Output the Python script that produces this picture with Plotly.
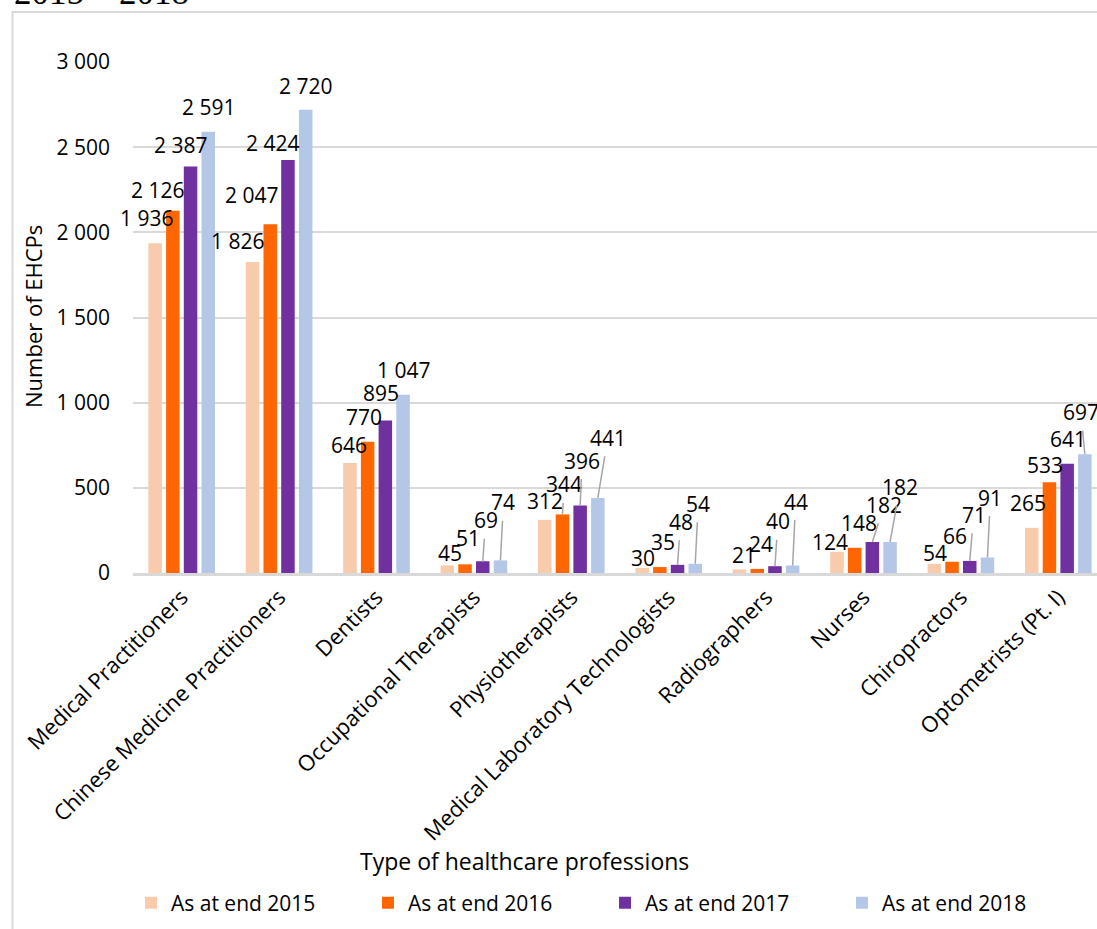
import plotly.graph_objects as go

# ---------------- data ----------------
categories = [
    "Medical Practitioners",
    "Chinese Medicine Practitioners",
    "Dentists",
    "Occupational Therapists",
    "Physiotherapists",
    "Medical Laboratory Technologists",
    "Radiographers",
    "Nurses",
    "Chiropractors",
    "Optometrists (Pt. I)",
]
series_names = ["As at end 2015", "As at end 2016", "As at end 2017", "As at end 2018"]
end_2015 = [1936, 1826, 646, 45, 312, 30, 21, 124, 54, 265]
end_2016 = [2126, 2047, 770, 51, 344, 35, 24, 148, 66, 533]
end_2017 = [2387, 2424, 895, 69, 396, 48, 40, 182, 71, 641]
end_2018 = [2591, 2720, 1047, 74, 441, 54, 44, 182, 91, 697]
y_tick_values = [0, 500, 1000, 1500, 2000, 2500, 3000]

# ---------------- style ----------------
colors = ["#F8CBAD", "#FF6600", "#7030A0", "#B4C7E7"]
FONT = "Open Sans"
FS_NUM = 21
FS_CAT = 22
FS_YT = 22
FS_XT = 23
FS_LEG = 21
W, H = 1097, 929
ML, MR, MT, MB = 133, 0, 62, 356
BARGAP, BARGROUPGAP = 0.273, 0.237

# label placement (pixel offset of label centre from bar top, leader line flag)
label_offsets = [
    # 2015
    [(-9, -25, 0), (-15, -21, 0), (-1, -18, 0), (3, -12, 0), (0, -19, 0),
     (1, -10, 0), (4, -14, 0), (-7, -10, 0), (1, -11, 0), (-4, -25, 0)],
    # 2016
    [(-15, -21, 0), (-19, -29, 0), (-4, -25, 0), (3, -26, 0), (2, -30, 1),
     (3, -25, 0), (4, -25, 0), (4, -25, 0), (3, -26, 0), (-4, -17, 0)],
    # 2017
    [(-10, -21, 0), (-15, -17, 0), (-4, -28, 0), (3, -41, 1), (2, -45, 1),
     (3, -43, 1), (3, -45, 1), (12, -37, 1), (4, -46, 1), (1, -25, 0)],
    # 2018
    [(0, -25, 0), (0, -24, 0), (0, -25, 0), (3, -58, 1), (10, -60, 1),
     (3, -60, 1), (3, -64, 1), (10, -55, 1), (3, -60, 1), (-4, -42, 1)],
]

all_series = [end_2015, end_2016, end_2017, end_2018]

fig = go.Figure()
for name, vals, col in zip(series_names, all_series, colors):
    fig.add_trace(go.Bar(
        x=categories, y=vals, name=name,
        marker=dict(color=col, line=dict(width=0)),
    ))

n = len(all_series)
slot = (1 - BARGAP) / n


def fmt(v):
    return f"{v:,}".replace(",", " ")


annotations = []
for j, vals in enumerate(all_series):
    off = (j - (n - 1) / 2) * slot
    for i, v in enumerate(vals):
        dx, dy, leader = label_offsets[j][i]
        base = dict(x=i + off, y=v, xref="x", yref="y", text=fmt(v),
                    font=dict(family=FONT, size=FS_NUM, color="#000000"),
                    xanchor="center", yanchor="middle")
        if leader:
            annotations.append(dict(base, showarrow=True, ax=dx, ay=dy,
                                    arrowhead=0, arrowwidth=1.5,
                                    arrowcolor="#A6A6A6", standoff=0,
                                    startstandoff=3))
        else:
            annotations.append(dict(base, showarrow=False, xshift=dx, yshift=-dy))

pw = W - ML - MR
ph = H - MT - MB


def px_x(p):
    return (p - ML) / pw


def px_y(p):
    return (H - MB - p) / ph


# axis titles
annotations.append(dict(text="Number of EHCPs", xref="paper", yref="paper",
                        x=px_x(33), y=px_y(317), textangle=-90, showarrow=False,
                        xanchor="center", yanchor="middle",
                        font=dict(family=FONT, size=FS_YT, color="#000000")))
annotations.append(dict(text="Type of healthcare professions", xref="paper", yref="paper",
                        x=px_x(524), y=px_y(861), showarrow=False,
                        xanchor="center", yanchor="middle",
                        font=dict(family=FONT, size=FS_XT, color="#000000")))
# cropped heading at the very top
annotations.append(dict(text="2015 – 2018", xref="paper", yref="paper",
                        x=px_x(12), y=px_y(14), showarrow=False,
                        xanchor="left", yanchor="bottom",
                        font=dict(family="Liberation Serif", size=35, color="#000000")))

fig.update_layout(
    width=W, height=H,
    margin=dict(l=ML, r=MR, t=MT, b=MB, pad=0),
    paper_bgcolor="white", plot_bgcolor="white",
    barmode="group", bargap=BARGAP, bargroupgap=BARGROUPGAP,
    font=dict(family=FONT, size=FS_NUM, color="#000000"),
    annotations=annotations,
    showlegend=True,
    legend=dict(orientation="h", x=px_x(131), y=px_y(903), xanchor="left",
                yanchor="middle", font=dict(family=FONT, size=FS_LEG, color="#000000"),
                entrywidth=192, entrywidthmode="pixels", traceorder="normal",
                bgcolor="rgba(0,0,0,0)"),
    shapes=[dict(type="rect", xref="paper", yref="paper",
                 x0=px_x(12.5), x1=1.2, y0=px_y(12), y1=px_y(1000),
                 line=dict(color="#D9D9D9", width=2), fillcolor="rgba(0,0,0,0)",
                 layer="below")],
)

fig.update_xaxes(
    type="category", range=[-0.5, (W - ML) / 97.4 - 0.5],
    tickangle=-45, showgrid=False, ticks="",
    showline=True, linecolor="#D9D9D9", linewidth=2.5,
    tickfont=dict(family=FONT, size=FS_CAT, color="#000000"),
    zeroline=False,
)
fig.update_yaxes(
    range=[0, 3000], tickvals=y_tick_values,
    ticktext=[fmt(v) for v in y_tick_values],
    showgrid=True, gridcolor="#D9D9D9", gridwidth=2,
    zeroline=False, showline=False, ticks="",
    ticklabelstandoff=22,
    tickfont=dict(family=FONT, size=FS_NUM, color="#000000"),
)

fig.write_html("out.html")
